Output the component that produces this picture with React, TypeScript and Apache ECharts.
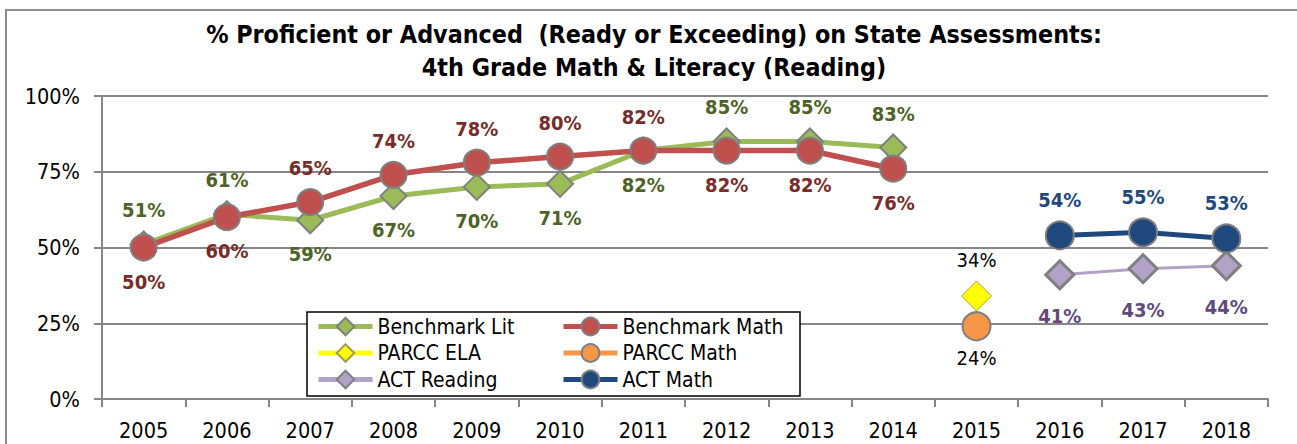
import React, { useEffect, useRef } from "react";
import * as echarts from "echarts";

const years = ["2005","2006","2007","2008","2009","2010","2011","2012","2013","2014","2015","2016","2017","2018"];
const benchmarkLit = [51, 61, 59, 67, 70, 71, 82, 85, 85, 83, null, null, null, null];
const benchmarkMath = [50, 60, 65, 74, 78, 80, 82, 82, 82, 76, null, null, null, null];
const parccEla = [null, null, null, null, null, null, null, null, null, null, 34, null, null, null];
const parccMath = [null, null, null, null, null, null, null, null, null, null, 24, null, null, null];
const actReading = [null, null, null, null, null, null, null, null, null, null, null, 41, 43, 44];
const actMath = [null, null, null, null, null, null, null, null, null, null, null, 54, 55, 53];
const yTicks = [0, 25, 50, 75, 100];

const litLabelPos = ["top","top","bottom","bottom","bottom","bottom","bottom","top","top","top"];
const mathLabelPos = ["bottom","bottom","top","top","top","top","top","bottom","bottom","bottom"];

const FONT = '"DejaVu Sans Condensed", "Liberation Sans Narrow", "Arial Narrow", sans-serif';

function build(values: (number | null)[], pos?: string[] | string) {
  return values.map((v, i) => {
    if (v == null) return "-";
    const p = Array.isArray(pos) ? pos[i] : pos;
    return p ? { value: v, label: { position: p } } : v;
  });
}

export default function App() {
  const ref = useRef<HTMLDivElement>(null);
  useEffect(() => {
    document.body.style.margin = "0";
    const chart = echarts.init(ref.current!, null, { renderer: "svg" });
    const border = "#7F7F7F";
    const labelBase = (color: string, bold = true) => ({
      show: true,
      formatter: "{c}%",
      color,
      fontFamily: FONT,
      fontSize: 20,
      fontWeight: bold ? "bold" : "normal",
      distance: 10,
    });
    const legendCommon = {
      orient: "vertical",
      padding: 0,
      itemGap: 5.5,
      itemWidth: 54,
      itemHeight: 22,
      lineStyle: { width: 5 },
      textStyle: { fontFamily: FONT, fontSize: 21, color: "#000" },
      z: 5,
    };
    chart.setOption({
      animation: false,
      textStyle: { fontFamily: FONT },
      title: {
        text: "% Proficient or Advanced  (Ready or Exceeding) on State Assessments:\n4th Grade Math & Literacy (Reading)",
        left: 649,
        top: 13,
        textAlign: "center",
        textStyle: { fontFamily: FONT, fontSize: 24.8, fontWeight: "bold", color: "#000", lineHeight: 33 },
      },
      graphic: [
        {
          type: "rect",
          shape: { x: 6, y: 10, width: 1310, height: 460 },
          style: { fill: "none", stroke: "#8C8C8C", lineWidth: 2 },
          silent: true,
          z: -10,
        },
        {
          type: "rect",
          shape: { x: 307, y: 312, width: 493, height: 84 },
          style: { fill: "#fff", stroke: "#000", lineWidth: 1.5 },
          silent: true,
          z: 4,
        },
      ],
      legend: [
        { ...legendCommon, left: 316, top: 316, data: ["Benchmark Lit", "PARCC ELA", "ACT Reading"] },
        { ...legendCommon, left: 561, top: 316, data: ["Benchmark Math", "PARCC Math", "ACT Math"] },
      ],
      grid: { left: 102, right: 29, top: 96, bottom: 45, containLabel: false },
      xAxis: {
        type: "category",
        data: years,
        boundaryGap: true,
        axisLine: { lineStyle: { color: "#868686", width: 2 } },
        axisTick: { show: true, alignWithLabel: false, length: 8, lineStyle: { color: "#868686", width: 2 } },
        axisLabel: { color: "#000", fontFamily: FONT, fontSize: 21.5, margin: 20 },
      },
      yAxis: {
        type: "value",
        min: yTicks[0],
        max: yTicks[yTicks.length - 1],
        interval: 25,
        axisLine: { show: true, lineStyle: { color: "#868686", width: 2 } },
        axisTick: { show: true, length: 8, lineStyle: { color: "#868686", width: 2 } },
        splitLine: { lineStyle: { color: "#868686", width: 2 } },
        axisLabel: { color: "#000", fontFamily: FONT, fontSize: 21.5, formatter: "{value}%", margin: 22 },
      },
      series: [
        {
          name: "Benchmark Lit",
          type: "line",
          data: build(benchmarkLit, litLabelPos),
          symbol: "diamond",
          symbolSize: 26,
          lineStyle: { color: "#9BBB59", width: 5 },
          itemStyle: { color: "#9BBB59", borderColor: border, borderWidth: 2 },
          label: labelBase("#4F6228"),
        },
        {
          name: "Benchmark Math",
          type: "line",
          data: build(benchmarkMath, mathLabelPos),
          symbol: "circle",
          symbolSize: 26,
          lineStyle: { color: "#C0504D", width: 5.5 },
          itemStyle: { color: "#C0504D", borderColor: border, borderWidth: 2 },
          label: labelBase("#772C2A"),
        },
        {
          name: "PARCC ELA",
          type: "line",
          data: build(parccEla, "top"),
          symbol: "diamond",
          symbolSize: 30,
          lineStyle: { color: "#FFFF00", width: 5 },
          itemStyle: { color: "#FFFF00", borderColor: "#A0A050", borderWidth: 1 },
          label: labelBase("#000", false),
        },
        {
          name: "PARCC Math",
          type: "line",
          data: build(parccMath, "bottom"),
          symbol: "circle",
          symbolSize: 28,
          lineStyle: { color: "#F79646", width: 5 },
          itemStyle: { color: "#F79646", borderColor: border, borderWidth: 2 },
          label: { ...labelBase("#000", false), distance: 7 },
        },
        {
          name: "ACT Reading",
          type: "line",
          data: build(actReading, "bottom"),
          symbol: "diamond",
          symbolSize: 28,
          lineStyle: { color: "#B3A2C7", width: 3 },
          itemStyle: { color: "#B3A2C7", borderColor: border, borderWidth: 3 },
          label: { ...labelBase("#604A7B"), distance: 16 },
        },
        {
          name: "ACT Math",
          type: "line",
          data: build(actMath, "top"),
          symbol: "circle",
          symbolSize: 28,
          lineStyle: { color: "#1F497D", width: 5 },
          itemStyle: { color: "#1F497D", borderColor: border, borderWidth: 2 },
          label: labelBase("#1F497D"),
        },
      ],
    });
    return () => chart.dispose();
  }, []);
  return <div ref={ref} style={{ width: 1297, height: 444 }} />;
}
